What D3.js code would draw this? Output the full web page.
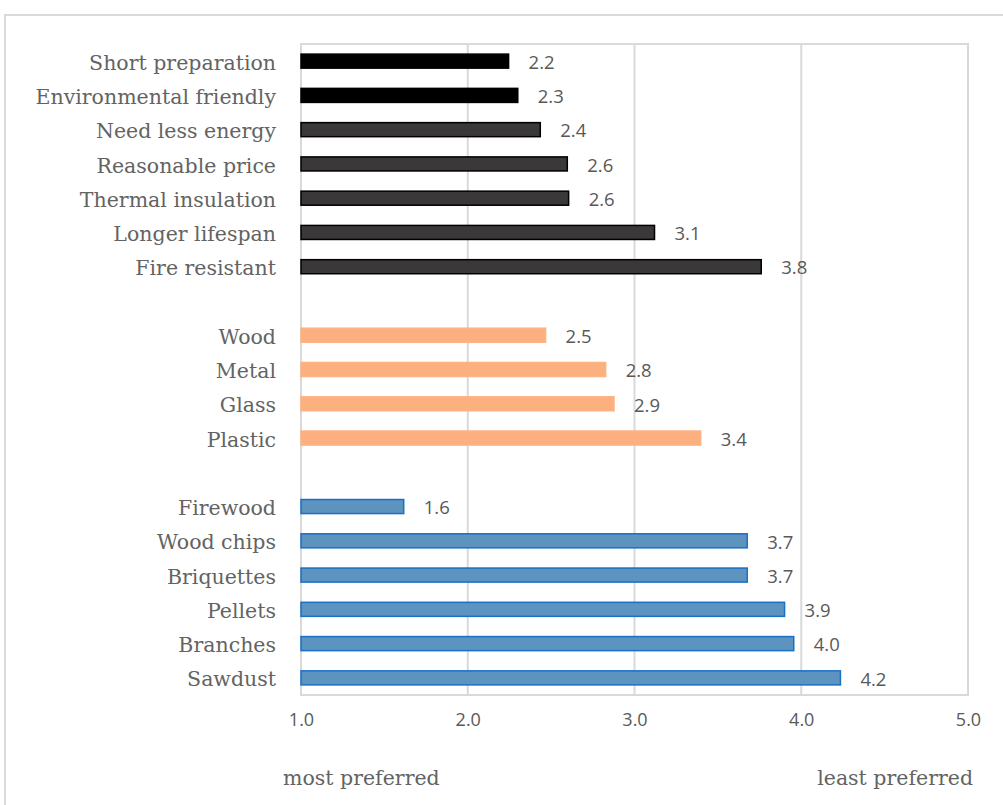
<!DOCTYPE html>
<html>
<head>
<meta charset="utf-8">
<script src="https://cdn.jsdelivr.net/npm/d3@7"></script>
<style>
  body { margin: 0; background: #fff; }
</style>
</head>
<body>
<div id="chart-area"></div>
<script>
// rows top to bottom, "" and " " = blank slots between groups
var categories = ["Short preparation", "Environmental friendly", "Need less energy", "Reasonable price",
  "Thermal insulation", "Longer lifespan", "Fire resistant", "",
  "Wood", "Metal", "Glass", "Plastic", " ",
  "Firewood", "Wood chips", "Briquettes", "Pellets", "Branches", "Sawdust"];

var featureNames = ["Short preparation", "Environmental friendly", "Need less energy", "Reasonable price",
  "Thermal insulation", "Longer lifespan", "Fire resistant"];
var featureValues = [2.245, 2.30, 2.435, 2.597, 2.605, 3.12, 3.76];

var materialNames = ["Wood", "Metal", "Glass", "Plastic"];
var materialValues = [2.467, 2.827, 2.877, 3.397];

var fuelNames = ["Firewood", "Wood chips", "Briquettes", "Pellets", "Branches", "Sawdust"];
var fuelValues = [1.616, 3.676, 3.676, 3.90, 3.955, 4.235];

var ticks = [1, 2, 3, 4, 5];

var rows = [];
featureNames.forEach(function(n, i) {
  rows.push({name: n, value: featureValues[i], fill: i < 2 ? "#000000" : "#3a3838", stroke: "#000000"});
});
materialNames.forEach(function(n, i) {
  rows.push({name: n, value: materialValues[i], fill: "#fcb07f", stroke: "#fcb385"});
});
fuelNames.forEach(function(n, i) {
  rows.push({name: n, value: fuelValues[i], fill: "#5d93bf", stroke: "#1b6fc4"});
});

var width = 1003, height = 805;
var plotL = 301, plotR = 968, plotT = 44, plotB = 695;
var serif = "'DejaVu Serif', serif";
var sans = "'Open Sans', sans-serif";

var svg = d3.select("#chart-area").append("svg")
  .attr("width", width)
  .attr("height", height);

// outer chart frame
svg.append("rect")
  .attr("x", 5)
  .attr("y", 15)
  .attr("width", 1010)
  .attr("height", 800)
  .attr("fill", "none")
  .attr("stroke", "#d9d9d9")
  .attr("stroke-width", 2);

var x = d3.scaleLinear().domain([1, 5]).range([plotL, plotR]);
var y = d3.scaleBand().domain(categories).range([plotT, plotB]).paddingInner(0.59).paddingOuter(0.295);

// gridlines
svg.append("g").selectAll("line")
  .data(ticks)
  .join("line")
  .attr("x1", function(d) { return x(d); })
  .attr("x2", function(d) { return x(d); })
  .attr("y1", plotT)
  .attr("y2", plotB)
  .attr("stroke", "#d9d9d9")
  .attr("stroke-width", 2);

// plot area border
svg.append("rect")
  .attr("x", plotL)
  .attr("y", plotT)
  .attr("width", plotR - plotL)
  .attr("height", plotB - plotT)
  .attr("fill", "none")
  .attr("stroke", "#d9d9d9")
  .attr("stroke-width", 2);

// bars
svg.append("g").selectAll("rect")
  .data(rows)
  .join("rect")
  .attr("x", x(1))
  .attr("y", function(d) { return y(d.name); })
  .attr("width", function(d) { return x(d.value) - x(1); })
  .attr("height", y.bandwidth())
  .attr("fill", function(d) { return d.fill; })
  .attr("stroke", function(d) { return d.stroke; })
  .attr("stroke-width", 1.5);

// value labels
svg.append("g").selectAll("text")
  .data(rows)
  .join("text")
  .attr("x", function(d) { return x(d.value) + 20; })
  .attr("y", function(d) { return y(d.name) + y.bandwidth() / 2; })
  .attr("dy", "0.42em")
  .attr("font-family", sans)
  .attr("font-size", 18.5)
  .attr("fill", "#595959")
  .text(function(d) { return d.value.toFixed(1); });

// category labels
svg.append("g").selectAll("text")
  .data(rows)
  .join("text")
  .attr("x", 276)
  .attr("y", function(d) { return y(d.name) + y.bandwidth() / 2; })
  .attr("dy", "0.42em")
  .attr("text-anchor", "end")
  .attr("font-family", serif)
  .attr("font-size", 20.5)
  .attr("fill", "#636363")
  .text(function(d) { return d.name; });

// x axis tick labels
var xAxis = d3.axisBottom(x).tickValues(ticks).tickSize(0).tickPadding(18)
  .tickFormat(d3.format(".1f"));
var gx = svg.append("g")
  .attr("transform", "translate(0," + plotB + ")")
  .call(xAxis);
gx.select(".domain").remove();
gx.selectAll("text")
  .attr("font-family", sans)
  .attr("font-size", 18)
  .attr("fill", "#595959");

// axis end captions
svg.append("text")
  .attr("x", 283)
  .attr("y", 785)
  .attr("font-family", serif)
  .attr("font-size", 20.5)
  .attr("fill", "#636363")
  .text("most preferred");

svg.append("text")
  .attr("x", 973)
  .attr("y", 785)
  .attr("text-anchor", "end")
  .attr("font-family", serif)
  .attr("font-size", 20.5)
  .attr("fill", "#636363")
  .text("least preferred");
</script>
</body>
</html>
